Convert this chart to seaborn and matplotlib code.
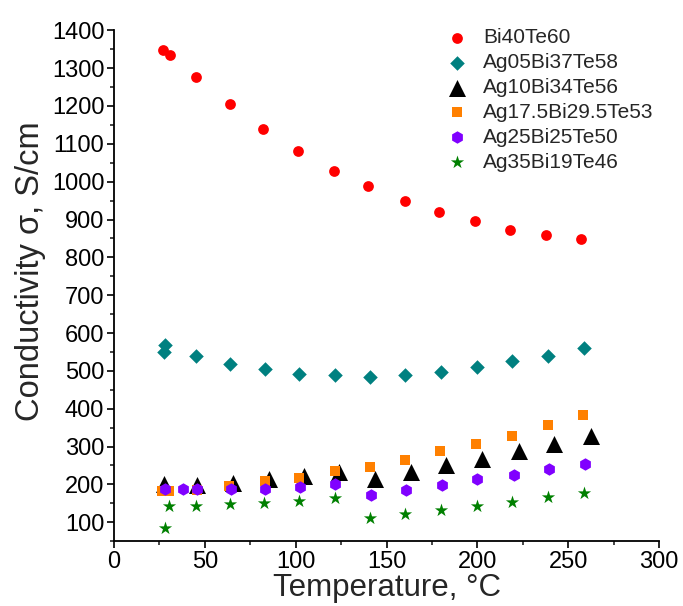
import matplotlib
matplotlib.use('Agg')
import matplotlib.pyplot as plt
from matplotlib.ticker import MultipleLocator
import seaborn as sns
import pandas as pd

sns.set_style('ticks')
plt.rcParams['font.family'] = ['Liberation Sans', 'DejaVu Sans']

# Bi40Te60
t_bi40 = [27, 31, 45, 64, 82, 101, 121, 140, 160, 179, 198.5, 218, 238, 257]
s_bi40 = [1349, 1336, 1277, 1205, 1139, 1081, 1028, 988, 949, 920, 895, 872, 860, 849]

# Ag05Bi37Te58
t_ag05 = [28, 27.7, 45, 64, 83, 102, 121.6, 141, 160.3, 180, 199.6, 219, 239, 258.7]
s_ag05 = [568, 549, 540, 518, 504, 493, 488, 483, 490, 496, 510, 525, 539, 560]

# Ag10Bi34Te56
t_ag10 = [27.5, 45.8, 65.5, 85.5, 104.4, 123.7, 143.5, 163.3, 182.7, 202.7, 222.7, 242.3, 262.4]
s_ag10 = [200, 198, 204, 213, 222, 233, 214, 232, 251, 268, 289, 308, 329]

# Ag17.5Bi29.5Te53
t_ag175 = [26.5, 30, 45.7, 63.5, 83, 101.8, 121.5, 141, 160, 179.6, 199.2, 219, 238.7, 258.3]
s_ag175 = [183, 183, 185, 195, 208, 218, 236, 246, 264, 288, 308, 329, 357, 383]

# Ag25Bi25Te50
t_ag25 = [28, 38, 45.5, 64.2, 83, 102.4, 121.6, 141.4, 160.5, 180.4, 200, 220, 239.6, 259.4]
s_ag25 = [187, 187, 187, 187, 189, 194, 202, 173, 186, 199, 213, 226, 240, 253]

# Ag35Bi19Te46
t_ag35 = [28, 30.3, 45, 63.8, 82.7, 101.8, 121.5, 141, 160, 179.8, 199.6, 219.2, 238.9, 258.8]
s_ag35 = [84, 142, 143, 147, 152, 156, 163, 110, 121, 132, 142, 153, 166, 178]

series = [
    ('Bi40Te60', t_bi40, s_bi40, 'o', '#ff0000', 60),
    ('Ag05Bi37Te58', t_ag05, s_ag05, 'D', '#008080', 55),
    ('Ag10Bi34Te56', t_ag10, s_ag10, '^', '#000000', 150),
    ('Ag17.5Bi29.5Te53', t_ag175, s_ag175, 's', '#ff8000', 50),
    ('Ag25Bi25Te50', t_ag25, s_ag25, 'h', '#8000ff', 80),
    ('Ag35Bi19Te46', t_ag35, s_ag35, '*', '#008000', 100),
]

fig = plt.figure(figsize=(6.83, 6.06), dpi=100)
ax = fig.add_axes([0.167, 0.107, 0.798, 0.843])

for name, t, s, mk, col, size in series:
    df = pd.DataFrame({'T': t, 'sigma': s})
    sns.scatterplot(data=df, x='T', y='sigma', marker=mk, color=col, s=size,
                    linewidth=0, label=name, ax=ax)

ax.set_xlim(0, 300)
ax.set_ylim(50, 1400)
ax.xaxis.set_major_locator(MultipleLocator(50))
ax.xaxis.set_minor_locator(MultipleLocator(25))
ax.yaxis.set_major_locator(MultipleLocator(100))
ax.yaxis.set_minor_locator(MultipleLocator(50))
ax.set_yticks(range(100, 1401, 100))

for side in ['top', 'right']:
    ax.spines[side].set_visible(False)
for side in ['left', 'bottom']:
    ax.spines[side].set_linewidth(1.3)
    ax.spines[side].set_color('black')

ax.tick_params(which='major', direction='out', length=5, width=1.2, labelsize=17,
               colors='black', pad=2)
ax.tick_params(which='minor', direction='out', length=3, width=1.2)

ax.set_xlabel('Temperature, °C', fontsize=22.5, labelpad=0)
ax.set_ylabel('Conductivity σ, S/cm', fontsize=23.5, labelpad=4)
ax.yaxis.label.set_y(0.528)

ax.legend(loc='upper right', bbox_to_anchor=(1.005, 1.02), frameon=False, fontsize=15,
          handletextpad=0.25, labelspacing=0.28, borderaxespad=0)

fig.savefig('out.png', dpi=100)
